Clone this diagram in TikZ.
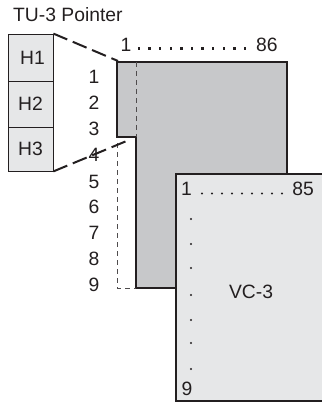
\documentclass[tikz,border=0pt]{standalone}
\usepackage{fontspec}
\setmainfont{Liberation Sans}
\definecolor{tugray}{RGB}{199,200,202}
\definecolor{paleFill}{RGB}{230,231,232}
\definecolor{inkc}{RGB}{35,31,32}
\begin{document}
\begin{tikzpicture}[x=1pt,y=-1pt,
  font=\fontsize{19.3}{22}\selectfont, text=inkc,
  hbox/.style={draw=inkc, line width=0.8pt, fill=paleFill, minimum width=45pt, inner sep=0pt},
  num/.style={inner sep=0pt},
  thinDash/.style={draw=inkc!80, line width=0.8pt, dash pattern=on 5pt off 4pt},
  zoomDash/.style={draw=inkc, line width=2pt, dash pattern=on 15pt off 6pt},
  outline/.style={draw=inkc, line width=2pt, line join=miter}]
\useasboundingbox (0,0) rectangle (321,403);

% title
\node[num, anchor=base west] (title) at (13,22) {TU-3 Pointer};

% H boxes
\node[hbox, minimum height=47pt] (h1) at (30.5,57.5) {\hspace*{4pt}H1};
\node[hbox, minimum height=46pt] (h2) at (30.5,104) {H2};
\node[hbox, minimum height=44pt] (h3) at (30.5,149) {H3};

% TU-3 gray area
\coordinate (gtl) at (117,62);
\coordinate (gnotch) at (117,137);
\draw[outline, fill=tugray] (gtl) -- (287,62) -- (287,288) -- (136,288) -- (136,137) -- (gnotch) -- cycle;
\draw[thinDash] (136,62) -- (136,137);
\coordinate (dtop) at (117,143);
\coordinate (dbot) at (117,288);
\coordinate (dend) at (136,288);
\draw[thinDash] (dtop) -- (dbot) -- (dend);

% zoom lines
\coordinate (z1) at (118,61);
\coordinate (z3) at (129,140);
\draw[zoomDash] (h1.north east) -- (z1);
\draw[zoomDash] (h3.south east) -- (z3);

% top column index row
\node[num, anchor=base] (c1) at (126,52) {1};
\foreach \k in {0,...,10} \fill[inkc] (139+10.6*\k-1.25,47.2) rectangle ++(2.5,2.5);
\node[num, anchor=base west] (c86) at (256,52) {86};

% row numbers
\foreach \i/\y in {1/77,2/103,3/129,4/155,5/182,6/207,7/233,8/259,9/285}
  \node[num] (r\i) at (94,\y) {\i};

% VC-3 box
\fill[paleFill] (176,174) rectangle (322,401);
\draw[outline] (322,174) -- (176,174) -- (176,401) -- (322,401);
\node[num] (vc) at (251,291.5) {VC-3};
\node[num, anchor=base] (v1) at (186.5,195) {1};
\foreach \k in {0,...,8} \fill[inkc] (202+10*\k,193.5) circle (1.1);
\node[num, anchor=base east] (v85) at (314,195) {85};
\foreach \y in {219,244,268,295,320,343,369} \fill[inkc] (191,\y) circle (1.1);
\node[num, anchor=base] (v9) at (187,395) {9};
\end{tikzpicture}
\end{document}
